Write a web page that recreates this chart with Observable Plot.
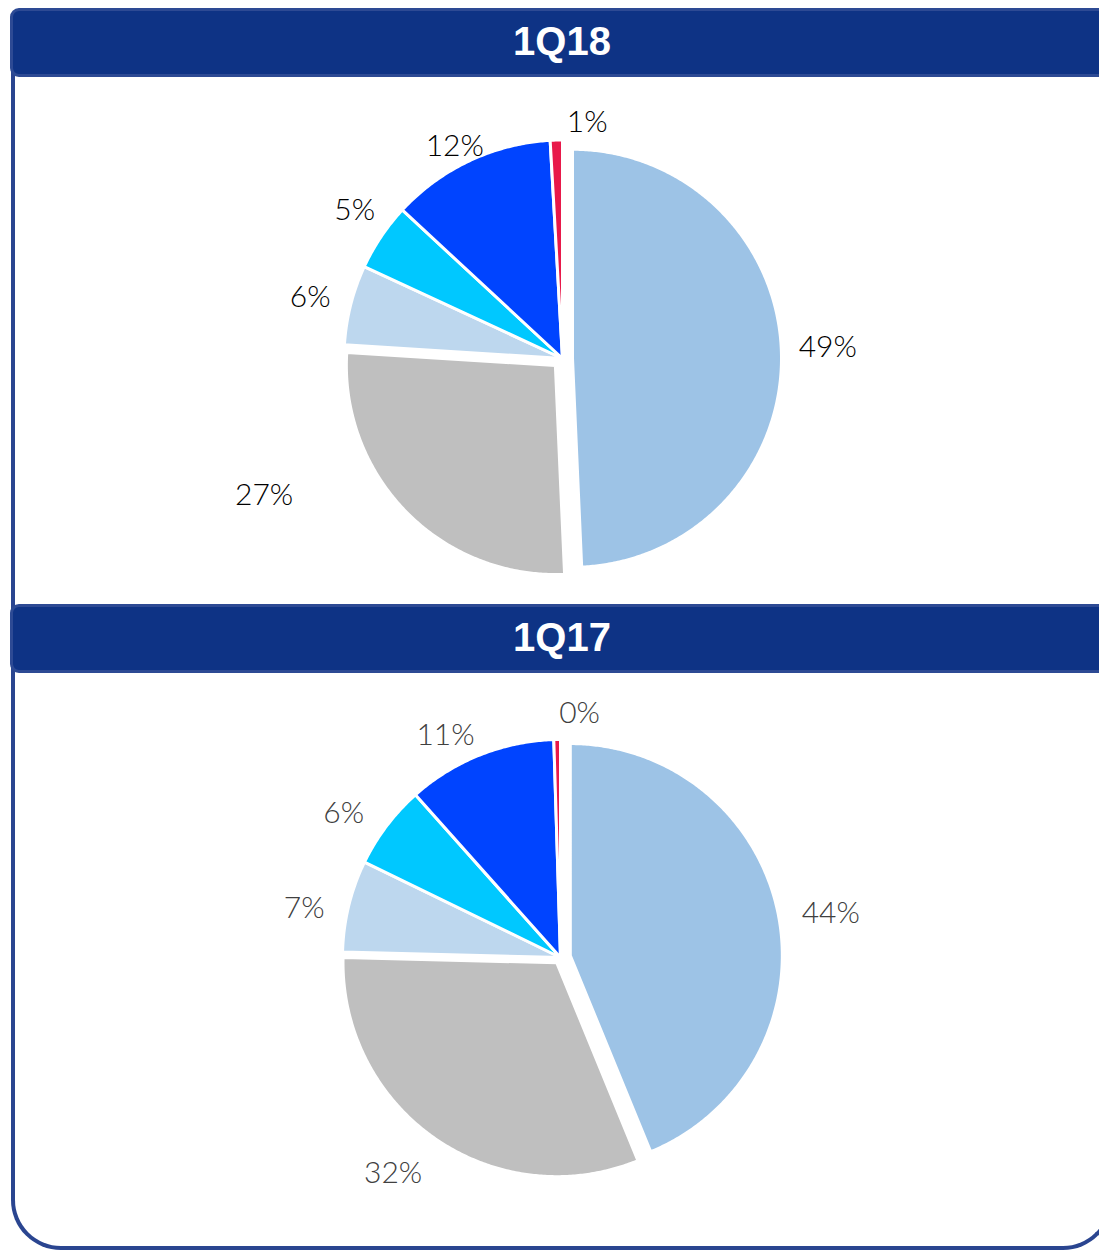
<!DOCTYPE html>
<html><head><meta charset="utf-8">
<script src="https://cdn.jsdelivr.net/npm/d3@7"></script>
<script src="https://cdn.jsdelivr.net/npm/@observablehq/plot@0.6"></script>
<style>
html,body{margin:0;padding:0;background:#fff;}
#wrap{position:relative;width:1099px;height:1251px;overflow:hidden;background:#fff;}
.frame{position:absolute;left:11px;top:40px;width:1102px;height:1210px;box-sizing:border-box;border:4px solid #2a4590;border-top:none;border-radius:0 0 50px 50px;}
.hdr{position:absolute;left:10px;width:1110px;height:69px;box-sizing:border-box;background:#0e3385;border:3px solid #2d4a94;border-radius:9px;}
.ttl{position:absolute;left:562px;transform:translate(-50%,-50%);color:#fff;font:bold 40px "Liberation Sans",Arial,sans-serif;line-height:1;white-space:nowrap;}
.pie{position:absolute;left:0;}
</style></head><body><div id="wrap"></div>
<script>
// ---- data ----
const periods = ["1Q18", "1Q17"];
const categories = ["Segment A", "Segment B", "Segment C", "Segment D", "Segment E", "Segment F"];
const values1Q18 = [49.3, 26.7, 5.9, 5.0, 12.2, 0.9];
const values1Q17 = [43.8, 31.6, 6.8, 6.2, 11.1, 0.49];

// ---- styles / layout ----
const colors = ["#9dc3e6", "#bfbfbf", "#bdd7ee", "#00c8ff", "#0044ff", "#e8194a"];
const W = 1099, FS = 30, GAP = 8.5;
const layouts = [
  {values: values1Q18, top: 78, height: 525, cx: 562, cy: 280, radius: [209, 209, 218.5, 218.5, 218.5, 218.5],
   explode: [10, 10, 0, 0, 0, 0], labelColor: "#000",
   nudge: [[0,-6], [-109,-30], [-4,-3], [5,-16], [5,3], [32,2]], hdrTop: 8, ttlTop: 41},
  {values: values1Q17, top: 674, height: 570, cx: 560, cy: 283, radius: [212, 213.8, 218, 218, 218, 218],
   explode: [10, 6.5, 0, 0, 0, 0], labelColor: "#404040",
   nudge: [[7,3], [-16,18], [-8,7], [-13,-1], [-17,-2], [23,-7]], hdrTop: 604, ttlTop: 637}
];

const wrap = document.getElementById("wrap");
const frame = document.createElement("div"); frame.className = "frame"; wrap.appendChild(frame);

function build(p) {
  const arcs = d3.pie().sort(null).value(d => d)(p.values);
  const pts = [], labels = [];
  arcs.forEach((a, i) => {
    const mid = (a.startAngle + a.endAngle) / 2;
    const dx = Math.sin(mid), dy = -Math.cos(mid);
    const d = p.explode[i], r = p.radius[i];
    const ox = d * dx, oy = d * dy;
    const cat = categories[i];
    pts.push({cat, x: ox, y: -oy});
    const n = Math.max(2, Math.ceil((a.endAngle - a.startAngle) / (Math.PI / 360)));
    for (let k = 0; k <= n; k++) {
      const t = a.startAngle + (a.endAngle - a.startAngle) * k / n;
      pts.push({cat, x: ox + r * Math.sin(t), y: -(oy - r * Math.cos(t))});
    }
    const txt = Math.round(p.values[i]) + "%";
    const w = (txt.length - 1) * 0.58 * FS + 0.83 * FS;
    const g = r + GAP;
    const lx = ox + dx * g + dx * (w / 2 + 8) + p.nudge[i][0];
    const ly = oy + dy * g + dy * 11 + p.nudge[i][1];
    labels.push({x: lx, y: -ly, text: txt});
  });
  return {pts, labels};
}

layouts.forEach((p, j) => {
  const {pts, labels} = build(p);
  const chart = Plot.plot({
    width: W, height: p.height, margin: 0,
    style: {background: "transparent", overflow: "visible"},
    x: {domain: [-p.cx, W - p.cx], axis: null},
    y: {domain: [-(p.height - p.cy), p.cy], axis: null},
    color: {domain: categories, range: colors},
    marks: [
      Plot.line(pts, {x: "x", y: "y", z: "cat", fill: "cat", stroke: "white", strokeWidth: 3,
        strokeLinejoin: "round", curve: "linear-closed"}),
      Plot.text(labels, {x: "x", y: "y", text: "text", fontSize: FS, fontFamily: "Lato",
        fontWeight: 300, fill: p.labelColor})
    ]
  });
  chart.classList.add("pie");
  chart.style.position = "absolute";
  chart.style.top = p.top + "px";
  chart.style.left = "0px";
  wrap.appendChild(chart);

  const hdr = document.createElement("div"); hdr.className = "hdr"; hdr.style.top = p.hdrTop + "px";
  wrap.appendChild(hdr);
  const ttl = document.createElement("div"); ttl.className = "ttl"; ttl.style.top = p.ttlTop + "px";
  ttl.textContent = periods[j];
  wrap.appendChild(ttl);
});
</script></body></html>
